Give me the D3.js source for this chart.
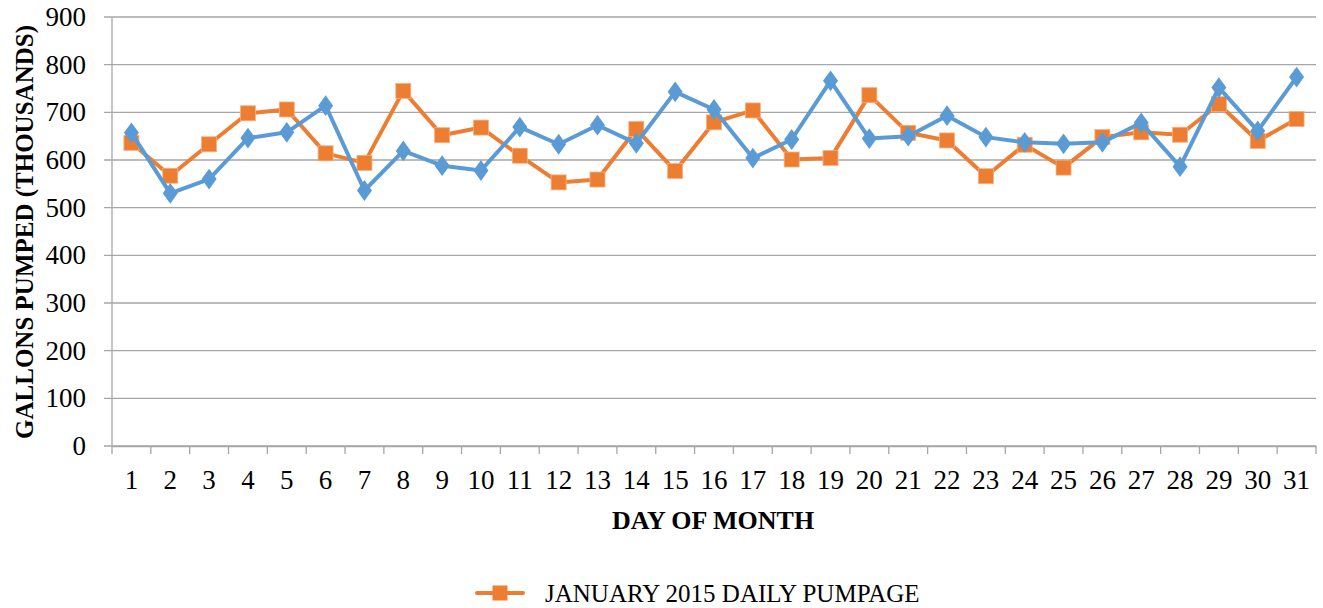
<!DOCTYPE html>
<html>
<head>
<meta charset="utf-8">
<script src="https://cdn.jsdelivr.net/npm/d3@7"></script>
<style>
  html, body { margin: 0; padding: 0; background: #fff; }
  svg { display: block; }
  text { font-family: "Liberation Serif", "DejaVu Serif", serif; fill: #000; }
</style>
</head>
<body>
<svg id="chart" width="1323" height="608"></svg>
<script>
const days = d3.range(1, 32).map(String);
const yTicks = [0, 100, 200, 300, 400, 500, 600, 700, 800, 900];
const pumpage = [636, 567, 633, 698, 706, 614, 594, 745, 652, 668, 609, 553, 559, 665, 577, 679, 704, 601, 604, 736, 657, 641, 566, 632, 584, 648, 658, 653, 717, 640, 686];
const otherSeries = [657, 530, 560, 646, 658, 714, 536, 619, 588, 578, 669, 633, 673, 635, 743, 706, 604, 643, 766, 645, 650, 693, 648, 637, 634, 637, 678, 586, 752, 661, 774];
const legendLabel = "JANUARY 2015 DAILY PUMPAGE";
const xTitle = "DAY OF MONTH";
const yTitle = "GALLONS PUMPED (THOUSANDS)";

const svg = d3.select("#chart");
const m = { left: 112, right: 1316, top: 17, bottom: 446 };
const x = d3.scaleBand().domain(days).range([m.left, m.right]);
const y = d3.scaleLinear().domain([0, 900]).range([m.bottom, m.top]);
const cx = d => x(d) + x.bandwidth() / 2;

// gridlines
svg.append("g").selectAll("line").data(yTicks).join("line")
  .attr("x1", m.left - 8).attr("x2", m.right)
  .attr("y1", d => y(d)).attr("y2", d => y(d))
  .attr("stroke", "#a6a6a6").attr("stroke-width", 1.3);

// y axis line
svg.append("line").attr("x1", m.left).attr("x2", m.left)
  .attr("y1", m.top).attr("y2", m.bottom).attr("stroke", "#a6a6a6").attr("stroke-width", 1.3);

// x axis
const xAxis = d3.axisBottom(x).tickSizeInner(0).tickSizeOuter(0);
const gx = svg.append("g").attr("transform", `translate(0,${m.bottom})`).call(xAxis);
gx.select(".domain").attr("stroke", "#a6a6a6").attr("stroke-width", 1.3);
gx.selectAll("text").attr("font-size", 27).attr("font-family", "Liberation Serif")
  .attr("fill", "#000").attr("y", 43).attr("dy", 0);
// boundary tick marks
const bounds = days.map(d => x(d)).concat([m.right]);
gx.selectAll(".bt").data(bounds).join("line").attr("class", "bt")
  .attr("x1", d => d).attr("x2", d => d).attr("y1", 0).attr("y2", 8)
  .attr("stroke", "#a6a6a6").attr("stroke-width", 1.3);

// y axis labels
const yAxis = d3.axisLeft(y).tickValues(yTicks).tickSize(0).tickPadding(26);
const gy = svg.append("g").attr("transform", `translate(${m.left},0)`).call(yAxis);
gy.select(".domain").remove();
gy.selectAll("text").attr("font-size", 27).attr("font-family", "Liberation Serif").attr("fill", "#000");

// lines
const line = data => d3.line().x((d, i) => cx(days[i])).y(d => y(d))(data);
const orange = "#ED7D31", blue = "#5B9BD5";

svg.append("path").attr("d", line(pumpage)).attr("fill", "none")
  .attr("stroke", orange).attr("stroke-width", 4).attr("stroke-linejoin", "round");
svg.append("g").selectAll("rect").data(pumpage).join("rect")
  .attr("x", (d, i) => cx(days[i]) - 7.5).attr("y", d => y(d) - 7.5)
  .attr("width", 15).attr("height", 15).attr("fill", orange)
  .attr("stroke", "#f4b183").attr("stroke-width", 0.8);

svg.append("path").attr("d", line(otherSeries)).attr("fill", "none")
  .attr("stroke", blue).attr("stroke-width", 4).attr("stroke-linejoin", "round");
const diamond = d3.symbol().type(d3.symbolDiamond).size(125);
svg.append("g").selectAll("path").data(otherSeries).join("path")
  .attr("d", diamond)
  .attr("transform", (d, i) => `translate(${cx(days[i])},${y(d)}) scale(1.25,1)`)
  .attr("fill", blue);

// axis titles
svg.append("text").attr("x", 713).attr("y", 529)
  .attr("text-anchor", "middle").attr("font-weight", "bold").attr("font-size", 26)
  .text(xTitle);
svg.append("text").attr("transform", `translate(33,232) rotate(-90)`)
  .attr("text-anchor", "middle").attr("font-weight", "bold").attr("font-size", 25)
  .text(yTitle);

// legend
const lg = svg.append("g").attr("transform", "translate(0,593)");
lg.append("line").attr("x1", 477).attr("x2", 523).attr("y1", 0).attr("y2", 0)
  .attr("stroke", orange).attr("stroke-width", 4).attr("stroke-linecap", "round");
lg.append("rect").attr("x", 492.5).attr("y", -7.5).attr("width", 15).attr("height", 15).attr("fill", orange);
lg.append("text").attr("x", 545).attr("y", 9).attr("font-size", 25).text(legendLabel);
</script>
</body>
</html>
